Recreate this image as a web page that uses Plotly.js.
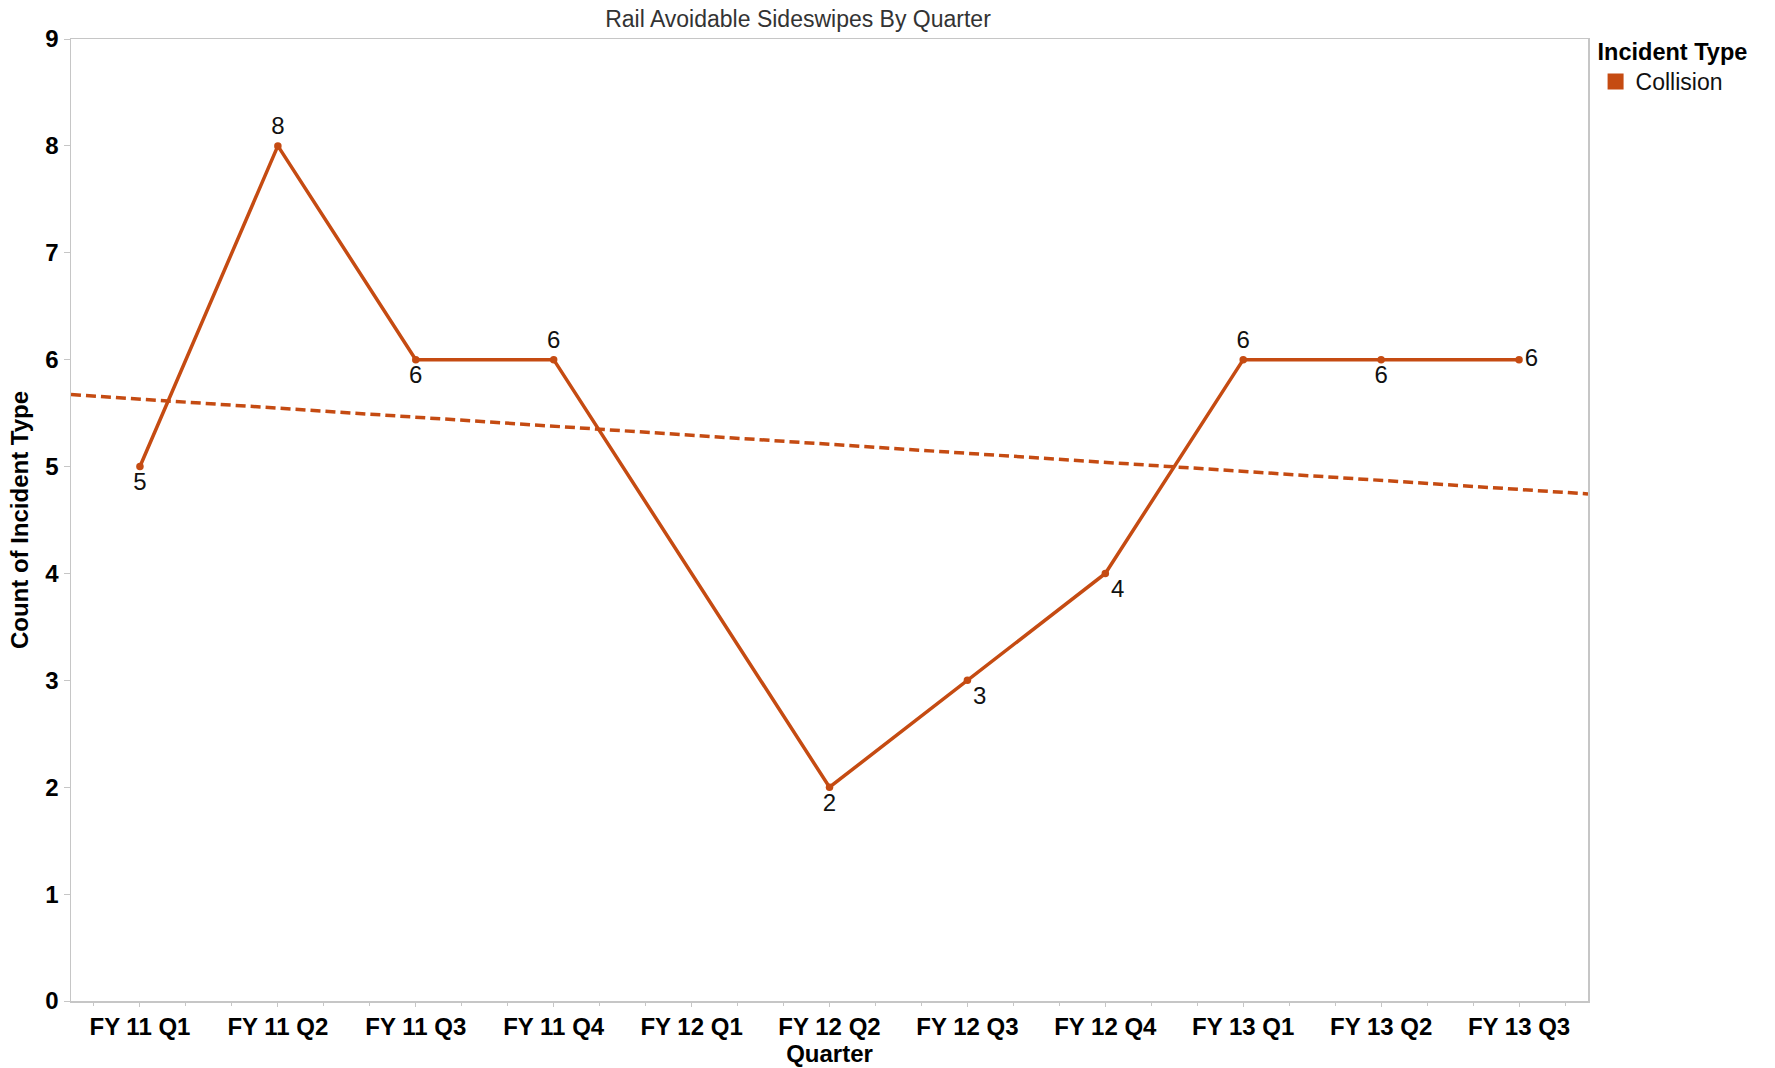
<!DOCTYPE html>
<html>
<head>
<meta charset="utf-8">
<script src="https://cdn.plot.ly/plotly-3.0.1.min.js"></script>
<style>html,body{margin:0;padding:0;background:#fff;}#chart{width:1775px;height:1068px;}</style>
</head>
<body>
<div id="chart"></div>
<script>
// ---- data ----
const quarters = ['FY 11 Q1','FY 11 Q2','FY 11 Q3','FY 11 Q4','FY 12 Q1','FY 12 Q2','FY 12 Q3','FY 12 Q4','FY 13 Q1','FY 13 Q2','FY 13 Q3'];
const collisions = [5, 8, 6, 6, null, 2, 3, 4, 6, 6, 6];
const seriesName = 'Collision';
const legendTitle = 'Incident Type';
const chartTitle = 'Rail Avoidable Sideswipes By Quarter';
const xTitle = 'Quarter';
const yTitle = 'Count of Incident Type';
const yTicks = [0, 1, 2, 3, 4, 5, 6, 7, 8, 9];

// ---- styling ----
const lineColor = '#C54B12';
const labelPositions = ['bottom center','top center','bottom center','top center','top center','bottom center','bottom right','bottom right','top center','bottom center','middle right'];
const xRange = [-0.5, quarters.length - 0.5];

// x index of each category
const xIdx = quarters.map((_, i) => i);

// linear trend (least squares on the existing points, as the original tool draws it)
const pts = xIdx.map((x, i) => [x, collisions[i]]).filter(p => p[1] !== null);
const n = pts.length;
const mx = pts.reduce((s, p) => s + p[0], 0) / n;
const my = pts.reduce((s, p) => s + p[1], 0) / n;
const sxy = pts.reduce((s, p) => s + (p[0] - mx) * (p[1] - my), 0);
const sxx = pts.reduce((s, p) => s + (p[0] - mx) * (p[0] - mx), 0);
const slope = sxy / sxx;
const trendX = xRange.slice();
const trendY = trendX.map(x => my + slope * (x - mx));

const minorTicks = [];
for (let i = -1; i <= quarters.length; i++) { minorTicks.push(i - 1/3, i + 1/3); }

const fam = 'Arial, "Liberation Sans", sans-serif';
const tickFont = {family: fam, size: 24, color: '#000', weight: 'bold'};
const axisGrey = '#c6c6c6';

const traces = [
  {
    x: trendX, y: trendY, type: 'scatter', mode: 'lines',
    line: {color: lineColor, width: 3.5, dash: '10px,5px'},
    showlegend: false, hoverinfo: 'skip'
  },
  {
    x: xIdx, y: collisions, type: 'scatter', mode: 'lines+markers+text',
    connectgaps: true,
    line: {color: lineColor, width: 3.5},
    marker: {color: lineColor, size: 7.5},
    text: collisions.map(v => v === null ? '' : String(v)),
    textposition: labelPositions,
    textfont: {family: fam, size: 24, color: '#111'},
    showlegend: false, cliponaxis: false
  },
  {
    x: [null], y: [null], type: 'scatter', mode: 'markers', name: seriesName,
    marker: {color: lineColor, size: 17, symbol: 'square'},
    showlegend: true
  }
];

const layout = {
  width: 1775, height: 1068,
  margin: {l: 71, r: 187, t: 39, b: 67, pad: 0},
  paper_bgcolor: '#fff', plot_bgcolor: '#fff',
  title: {
    text: chartTitle, x: 798 / 1775, xanchor: 'center', y: 1 - 19 / 1068, yanchor: 'middle',
    font: {family: fam, size: 23, color: '#333'}
  },
  xaxis: {
    type: 'linear', range: xRange, tickmode: 'array', tickvals: xIdx, ticktext: quarters,
    tickfont: tickFont, showgrid: false, zeroline: false,
    showline: true, linecolor: axisGrey, linewidth: 1.5, mirror: true,
    ticks: 'outside', ticklen: 4, tickcolor: axisGrey, tickwidth: 1,
    minor: {tickmode: 'array', tickvals: minorTicks, ticks: 'outside', ticklen: 3, tickcolor: axisGrey, showgrid: false},
    title: {text: xTitle, font: tickFont, standoff: 4}
  },
  yaxis: {
    range: [0, 9], tickmode: 'array', tickvals: yTicks,
    tickfont: tickFont, showgrid: false, zeroline: false,
    showline: true, linecolor: axisGrey, linewidth: 1.5, mirror: true,
    ticks: 'outside', ticklen: 6, tickcolor: axisGrey, tickwidth: 1,
    title: {text: yTitle, font: tickFont, standoff: 10}
  },
  legend: {
    title: {text: legendTitle, font: {family: fam, size: 23.5, color: '#000', weight: 'bold'}},
    font: {family: fam, size: 23, color: '#111'},
    x: 1.005, xanchor: 'left', y: 1.01, yanchor: 'top',
    bgcolor: 'rgba(0,0,0,0)', itemwidth: 30, tracegroupgap: 0
  },
  showlegend: true
};

Plotly.newPlot('chart', traces, layout, {displayModeBar: false, staticPlot: true});
</script>
</body>
</html>
